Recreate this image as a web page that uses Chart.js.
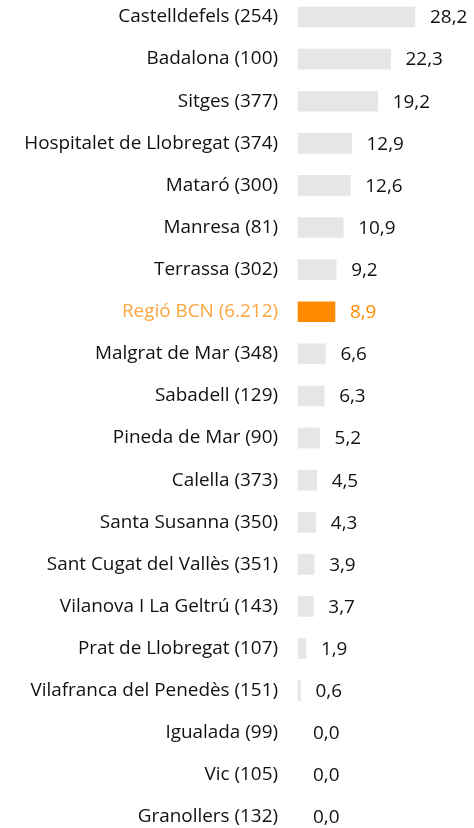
<!DOCTYPE html>
<html>
<head>
<meta charset="utf-8">
<script src="https://cdn.jsdelivr.net/npm/chart.js@4"></script>
<style>
html,body{margin:0;padding:0;background:#fff;}
#wrap{width:474px;height:828px;position:relative;}
</style>
</head>
<body>
<div id="wrap"><canvas id="c"></canvas></div>
<script>
const categories = [
  "Castelldefels (254)", "Badalona (100)", "Sitges (377)", "Hospitalet de Llobregat (374)",
  "Mataró (300)", "Manresa (81)", "Terrassa (302)", "Regió BCN (6.212)",
  "Malgrat de Mar (348)", "Sabadell (129)", "Pineda de Mar (90)", "Calella (373)",
  "Santa Susanna (350)", "Sant Cugat del Vallès (351)", "Vilanova I La Geltrú (143)",
  "Prat de Llobregat (107)", "Vilafranca del Penedès (151)", "Igualada (99)",
  "Vic (105)", "Granollers (132)"
];
const values = [28.2, 22.3, 19.2, 12.9, 12.6, 10.9, 9.2, 8.9, 6.6, 6.3, 5.2, 4.5, 4.3, 3.9, 3.7, 1.9, 0.6, 0.0, 0.0, 0.0];
const highlight = "Regió BCN (6.212)";

const GRAY = "#e6e6e6";
const ORANGE = "#ff8a00";
const ORANGE_TEXT = "#fba53f";
const FONT = "'Open Sans', 'Noto Sans', sans-serif";
const FSIZE = 18.9;

const barColors = categories.map((c, i) => c === highlight ? ORANGE : (values[i] === 0 ? "rgba(0,0,0,0)" : GRAY));
const tickColors = categories.map(c => c === highlight ? ORANGE_TEXT : "#111");

const valueLabels = {
  id: "valueLabels",
  afterDatasetsDraw(chart) {
    const ctx = chart.ctx;
    const meta = chart.getDatasetMeta(0);
    ctx.save();
    ctx.font = FSIZE + "px " + FONT;
    ctx.textBaseline = "middle";
    ctx.textAlign = "left";
    meta.data.forEach((bar, i) => {
      ctx.fillStyle = categories[i] === highlight ? ORANGE : "#111";
      const txt = values[i].toFixed(1).replace(".", ",");
      ctx.fillText(txt, bar.x + 15, bar.y + 1);
    });
    ctx.restore();
  }
};

new Chart(document.getElementById("c"), {
  type: "bar",
  data: {
    labels: categories,
    datasets: [{
      data: values,
      backgroundColor: barColors,
      borderWidth: 0,
      barThickness: 20,
      clip: false
    }]
  },
  options: {
    indexAxis: "y",
    responsive: true,
    maintainAspectRatio: false,
    animation: false,
    layout: { padding: { top: 17, bottom: 11, right: 10, left: 0 } },
    plugins: { legend: { display: false }, tooltip: { enabled: false } },
    scales: {
      x: { display: false, min: 0, max: 40 },
      y: {
        offset: false,
        grid: { display: false, drawTicks: false },
        border: { display: false },
        afterFit(scale) {
          scale.width = 298;
          scale.paddingTop = 0;
          scale.paddingBottom = 0;
        },
        ticks: {
          padding: 20,
          color: tickColors,
          font: { family: FONT, size: FSIZE }
        }
      }
    }
  },
  plugins: [valueLabels]
});
</script>
</body>
</html>
